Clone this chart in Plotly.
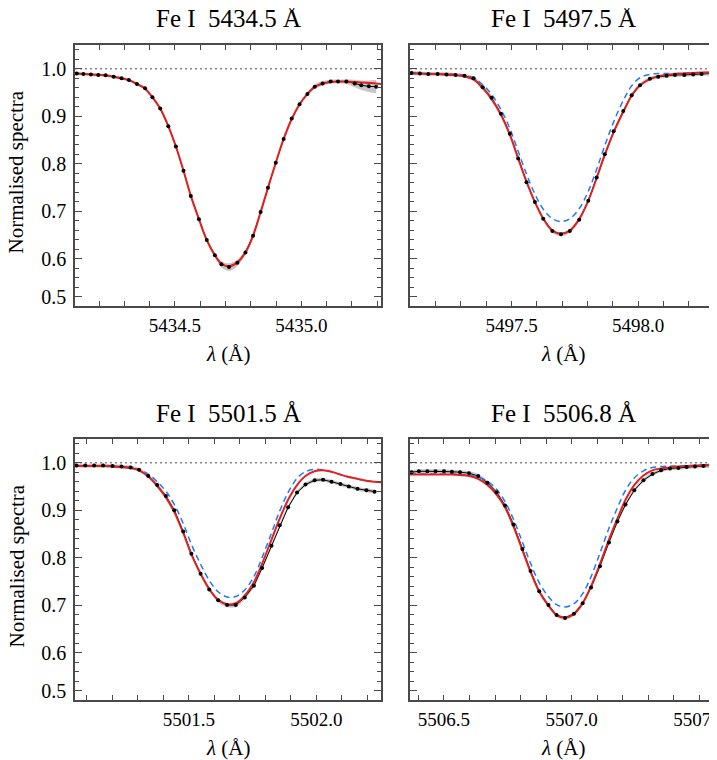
import plotly.graph_objects as go
import numpy as np

# ---- Fe I 5434.5 ----
wave_5434 = [5434.112, 5434.138, 5434.168, 5434.197, 5434.226, 5434.258, 5434.289, 5434.318,
             5434.350, 5434.382, 5434.411, 5434.442, 5434.474, 5434.504, 5434.534, 5434.563,
             5434.595, 5434.626, 5434.658, 5434.684, 5434.714, 5434.747, 5434.779, 5434.809,
             5434.839, 5434.868, 5434.899, 5434.930, 5434.962, 5434.993, 5435.024, 5435.053,
             5435.084, 5435.116, 5435.145, 5435.178, 5435.211, 5435.237, 5435.267, 5435.296]
flux_5434 = [0.990, 0.989, 0.988, 0.987, 0.986, 0.983, 0.980, 0.976, 0.968, 0.959, 0.940, 0.916,
             0.879, 0.836, 0.785, 0.732, 0.683, 0.639, 0.607, 0.588, 0.582, 0.591, 0.613, 0.648,
             0.698, 0.749, 0.802, 0.852, 0.895, 0.925, 0.947, 0.962, 0.969, 0.973, 0.973, 0.973,
             0.969, 0.965, 0.963, 0.962]
err_5434 = [0.003, 0.003, 0.003, 0.003, 0.003, 0.003, 0.003, 0.003, 0.003, 0.003, 0.003, 0.003,
            0.003, 0.003, 0.003, 0.003, 0.003, 0.004, 0.005, 0.007, 0.008, 0.007, 0.005, 0.004,
            0.003, 0.003, 0.003, 0.003, 0.003, 0.003, 0.004, 0.005, 0.005, 0.004, 0.004, 0.005,
            0.008, 0.010, 0.012, 0.014]
xrange_5434 = [5434.105, 5435.315]
red_5434 = [0.990, 0.990, 0.989, 0.988, 0.987, 0.986, 0.983, 0.980, 0.976, 0.968, 0.958, 0.940,
            0.916, 0.879, 0.836, 0.785, 0.732, 0.683, 0.639, 0.607, 0.589, 0.584, 0.592, 0.613,
            0.648, 0.698, 0.749, 0.802, 0.852, 0.894, 0.925, 0.947, 0.962, 0.969, 0.972, 0.973,
            0.973, 0.972, 0.971, 0.970, 0.969, 0.968]

# ---- Fe I 5497.5 ----
wave_5497 = [5497.105, 5497.138, 5497.171, 5497.208, 5497.243, 5497.279, 5497.314, 5497.350,
             5497.386, 5497.421, 5497.458, 5497.493, 5497.526, 5497.559, 5497.592, 5497.625,
             5497.661, 5497.695, 5497.730, 5497.767, 5497.803, 5497.836, 5497.868, 5497.903,
             5497.941, 5497.974, 5498.007, 5498.046, 5498.079, 5498.112, 5498.145, 5498.182,
             5498.217, 5498.250, 5498.289]
flux_5497 = [0.991, 0.990, 0.989, 0.989, 0.988, 0.987, 0.985, 0.980, 0.961, 0.939, 0.905, 0.863,
             0.811, 0.761, 0.719, 0.684, 0.658, 0.651, 0.658, 0.682, 0.722, 0.771, 0.820, 0.868,
             0.911, 0.944, 0.965, 0.979, 0.983, 0.985, 0.987, 0.987, 0.988, 0.989, 0.990]
xrange_5497 = [5497.099, 5498.311]
red_5497 = [0.990, 0.990, 0.990, 0.989, 0.989, 0.988, 0.987, 0.984, 0.977, 0.959, 0.936, 0.903,
            0.861, 0.811, 0.762, 0.719, 0.684, 0.659, 0.652, 0.659, 0.683, 0.722, 0.770, 0.819,
            0.866, 0.909, 0.943, 0.965, 0.978, 0.984, 0.987, 0.989, 0.990, 0.991, 0.992, 0.992,
            0.993]
blue_5497 = [0.990, 0.990, 0.990, 0.990, 0.989, 0.989, 0.988, 0.986, 0.981, 0.966, 0.946, 0.914,
             0.874, 0.826, 0.778, 0.736, 0.704, 0.684, 0.678, 0.684, 0.705, 0.742, 0.788, 0.838,
             0.888, 0.933, 0.964, 0.981, 0.988, 0.990, 0.990, 0.990, 0.991, 0.991, 0.992, 0.992,
             0.993]

# ---- Fe I 5501.5 ----
wave_5501 = [5501.060, 5501.094, 5501.129, 5501.164, 5501.201, 5501.236, 5501.272, 5501.305,
             5501.341, 5501.376, 5501.410, 5501.443, 5501.478, 5501.510, 5501.546, 5501.580,
             5501.615, 5501.650, 5501.684, 5501.719, 5501.755, 5501.787, 5501.824, 5501.856,
             5501.889, 5501.924, 5501.957, 5501.993, 5502.026, 5502.059, 5502.094, 5502.127,
             5502.161, 5502.196, 5502.228]
flux_5501 = [0.994, 0.994, 0.994, 0.994, 0.993, 0.992, 0.990, 0.985, 0.972, 0.953, 0.930, 0.900,
             0.855, 0.808, 0.766, 0.733, 0.710, 0.700, 0.700, 0.716, 0.741, 0.778, 0.825, 0.868,
             0.906, 0.937, 0.954, 0.963, 0.964, 0.960, 0.955, 0.950, 0.945, 0.942, 0.939]
xrange_5501 = [5501.054, 5502.253]
red_5501 = [0.993, 0.993, 0.993, 0.993, 0.993, 0.992, 0.991, 0.989, 0.984, 0.971, 0.951, 0.927,
            0.896, 0.852, 0.807, 0.766, 0.734, 0.711, 0.702, 0.704, 0.720, 0.748, 0.787, 0.838,
            0.882, 0.922, 0.953, 0.972, 0.982, 0.984, 0.981, 0.975, 0.970, 0.966, 0.962, 0.960,
            0.959]
blue_5501 = [0.993, 0.993, 0.993, 0.993, 0.993, 0.992, 0.991, 0.989, 0.986, 0.976, 0.960, 0.940,
             0.912, 0.872, 0.828, 0.786, 0.752, 0.728, 0.717, 0.718, 0.732, 0.760, 0.800, 0.852,
             0.898, 0.937, 0.967, 0.981, 0.986, 0.985, 0.981, 0.975, 0.970, 0.966, 0.962, 0.960,
             0.959]

# ---- Fe I 5506.8 ----
wave_5506 = [5506.373, 5506.402, 5506.435, 5506.467, 5506.500, 5506.531, 5506.563, 5506.598,
             5506.634, 5506.670, 5506.706, 5506.739, 5506.772, 5506.807, 5506.839, 5506.873,
             5506.909, 5506.941, 5506.974, 5507.009, 5507.043, 5507.076, 5507.111, 5507.146,
             5507.179, 5507.211, 5507.245, 5507.281, 5507.316, 5507.350, 5507.385, 5507.418,
             5507.450, 5507.483, 5507.516, 5507.548]
flux_5506 = [0.980, 0.982, 0.982, 0.982, 0.982, 0.981, 0.980, 0.978, 0.972, 0.958, 0.938, 0.910,
             0.870, 0.818, 0.772, 0.729, 0.700, 0.679, 0.673, 0.682, 0.704, 0.737, 0.782, 0.832,
             0.876, 0.912, 0.942, 0.963, 0.976, 0.984, 0.988, 0.989, 0.991, 0.992, 0.993, 0.994]
xrange_5506 = [5506.367, 5507.569]
red_5506 = [0.975, 0.975, 0.975, 0.975, 0.975, 0.975, 0.975, 0.974, 0.972, 0.966, 0.953, 0.933,
            0.906, 0.866, 0.816, 0.770, 0.728, 0.699, 0.679, 0.674, 0.681, 0.704, 0.740, 0.787,
            0.838, 0.882, 0.922, 0.953, 0.973, 0.984, 0.988, 0.990, 0.992, 0.993, 0.994, 0.995,
            0.996, 0.996]
blue_5506 = [0.976, 0.976, 0.976, 0.976, 0.976, 0.976, 0.976, 0.975, 0.974, 0.970, 0.961, 0.944,
             0.918, 0.881, 0.833, 0.788, 0.747, 0.718, 0.701, 0.696, 0.703, 0.724, 0.760, 0.810,
             0.862, 0.905, 0.942, 0.968, 0.983, 0.990, 0.992, 0.993, 0.993, 0.994, 0.994, 0.995,
             0.996, 0.996]

halo_err = 0.004  # thin grey band around the observed profile

y_tickvals = [0.52, 0.6, 0.7, 0.8, 0.9, 1.0]
y_ticktext = ["0.5", "0.6", "0.7", "0.8", "0.9", "1.0"]

panels = [
    ("Fe I\u00a0\u00a05434.5 Å", wave_5434, flux_5434, err_5434, xrange_5434, red_5434, None),
    ("Fe I\u00a0\u00a05497.5 Å", wave_5497, flux_5497, halo_err, xrange_5497, red_5497, blue_5497),
    ("Fe I\u00a0\u00a05501.5 Å", wave_5501, flux_5501, halo_err, xrange_5501, red_5501, blue_5501),
    ("Fe I\u00a0\u00a05506.8 Å", wave_5506, flux_5506, halo_err, xrange_5506, red_5506, blue_5506),
]

W, H = 717, 760
SERIF = "Liberation Serif"
AX = "#4a4a4a"
# panel frames in pixels: left, right, top, bottom
boxes = [(67, 373, 37, 298), (402, 709, 37, 298), (67, 373, 431, 692), (402, 709, 431, 692)]

fig = go.Figure()
layout = {}
annotations = []
shapes = []

for i, (title, wave, flux, err, xr, red, blue) in enumerate(panels):
    n = "" if i == 0 else str(i + 1)
    xa, ya = "x" + n, "y" + n
    wave = np.array(wave)
    flux = np.array(flux)
    err = np.array(err) if np.ndim(err) else np.full(len(flux), err)
    mwave = np.concatenate([[xr[0]], wave, [xr[1]]])

    # grey uncertainty band
    fig.add_trace(go.Scatter(x=wave, y=flux + err, mode="lines", line=dict(width=0, shape="spline"),
                             xaxis=xa, yaxis=ya, hoverinfo="skip"))
    fig.add_trace(go.Scatter(x=wave, y=flux - err, mode="lines", line=dict(width=0, shape="spline"),
                             fill="tonexty", fillcolor="rgba(175,175,175,0.7)",
                             xaxis=xa, yaxis=ya, hoverinfo="skip"))
    # observed profile
    fig.add_trace(go.Scatter(x=wave, y=flux, mode="lines", line=dict(color="black", width=1),
                             xaxis=xa, yaxis=ya))
    if blue is not None:
        fig.add_trace(go.Scatter(x=mwave, y=blue, mode="lines",
                                 line=dict(color="#1f78ff", width=1.5, dash="6px,4px", shape="spline"),
                                 xaxis=xa, yaxis=ya))
    fig.add_trace(go.Scatter(x=mwave, y=red, mode="lines",
                             line=dict(color="#e3201c", width=2, shape="spline"),
                             xaxis=xa, yaxis=ya))
    fig.add_trace(go.Scatter(x=wave, y=flux, mode="markers",
                             marker=dict(color="black", size=4),
                             xaxis=xa, yaxis=ya))

    shapes.append(dict(type="line", xref=xa + " domain", yref=ya, x0=0, x1=1, y0=1.0, y1=1.0,
                       line=dict(color="#888888", width=1.5, dash="2px,3px"), layer="below"))

    l, r, t, b = boxes[i]
    xkey = "xaxis" + n
    ykey = "yaxis" + n
    layout[xkey] = dict(
        domain=[l / W, r / W], range=xr, anchor=ya,
        showline=True, mirror="ticks", linecolor=AX, linewidth=1.5,
        ticks="inside", ticklen=5, tickcolor=AX, tickwidth=1,
        dtick=0.5, tick0=0, tickformat=".1f",
        minor=dict(dtick=0.1, tick0=0, ticks="inside", ticklen=5, tickcolor=AX, showgrid=False),
        showgrid=False, zeroline=False,
        tickfont=dict(family=SERIF, size=19, color="black"),
        ticklabelstandoff=1,
        ticklabeloverflow="allow",
        automargin=False,
    )
    layout[ykey] = dict(
        domain=[1 - b / H, 1 - t / H], range=[0.5, 1.05], anchor=xa,
        showline=True, mirror="ticks", linecolor=AX, linewidth=1.5,
        ticks="inside", ticklen=7, tickcolor=AX, tickwidth=1,
        tickmode="array", tickvals=y_tickvals, ticktext=y_ticktext,
        minor=dict(tickmode="linear", tick0=0.5, dtick=0.02, ticks="inside", ticklen=4,
                   tickcolor=AX, showgrid=False),
        showgrid=False, zeroline=False,
        showticklabels=(i % 2 == 0),
        tickfont=dict(family=SERIF, size=20, color="black"),
        ticklabelstandoff=3,
        automargin=False,
    )

    cx = (l + r) / 2 / W
    annotations.append(dict(text=title, x=cx, y=1 - (t - 26) / H, xref="paper", yref="paper",
                            xanchor="center", yanchor="middle", showarrow=False,
                            font=dict(family=SERIF, size=25, color="black")))
    annotations.append(dict(text="<i>λ</i> (Å)", x=cx, y=1 - (b + 48) / H, xref="paper", yref="paper",
                            xanchor="center", yanchor="middle", showarrow=False,
                            font=dict(family=SERIF, size=21, color="black")))
    if i % 2 == 0:
        annotations.append(dict(text="Normalised spectra", x=8 / W, y=1 - ((t + b) / 2 - 3) / H,
                                xref="paper", yref="paper", xanchor="center", yanchor="middle",
                                textangle=-90, showarrow=False,
                                font=dict(family=SERIF, size=21, color="black")))

fig.update_layout(
    width=W, height=H,
    margin=dict(l=0, r=0, t=0, b=0, autoexpand=False),
    plot_bgcolor="white", paper_bgcolor="white",
    showlegend=False,
    annotations=annotations,
    shapes=shapes,
    **layout,
)

fig.write_html("out.html")
